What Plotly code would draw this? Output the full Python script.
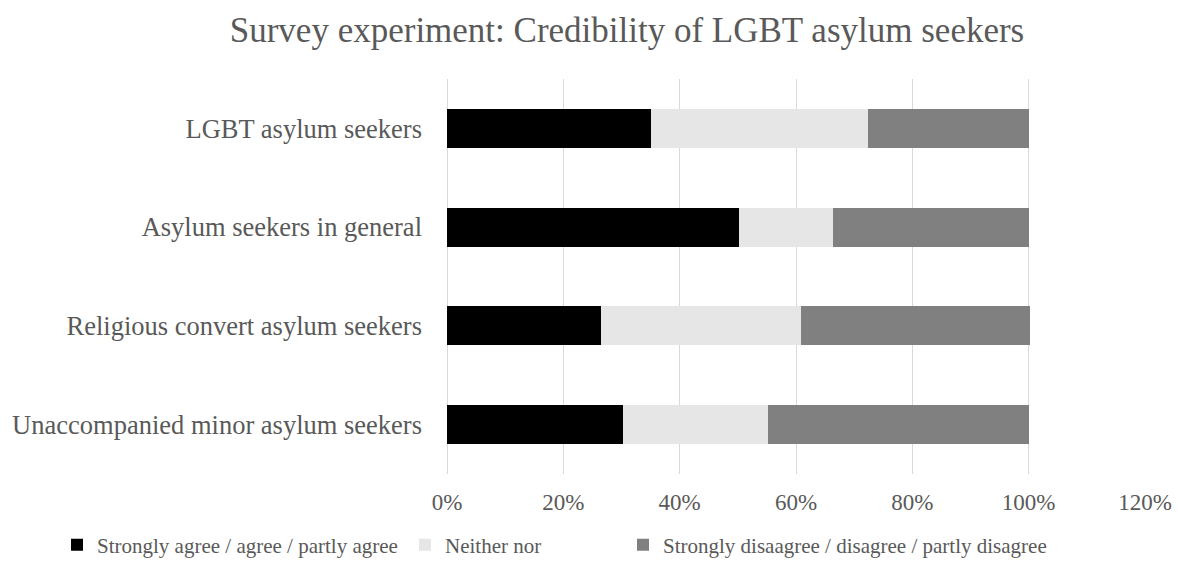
import plotly.graph_objects as go

categories = ["LGBT asylum seekers", "Asylum seekers in general",
              "Religious convert asylum seekers", "Unaccompanied minor asylum seekers"]
series_names = ["Strongly agree / agree / partly agree", "Neither nor",
                "Strongly disaagree / disagree / partly disagree"]
agree = [35.0, 50.2, 26.5, 30.3]
neither = [37.4, 16.1, 34.3, 24.9]
disagree = [27.6, 33.7, 39.5, 44.8]
tick_vals = [0, 20, 40, 60, 80, 100, 120]
tick_text = ["0%", "20%", "40%", "60%", "80%", "100%", "120%"]

colors = ["#000000", "#e6e6e6", "#808080"]
FONT = "Liberation Serif, Times New Roman, serif"
TXT = "#595959"

W, H = 1178, 566
ML, MR, MT, MB = 447, 33, 79, 92

fig = go.Figure()
legends = ["legend", "legend2", "legend3"]
for name, vals, col, lg in zip(series_names, [agree, neither, disagree], colors, legends):
    fig.add_trace(go.Bar(
        y=categories, x=vals, name=name, orientation="h",
        marker=dict(color=col, line=dict(width=0)),
        legend=lg,
    ))

text_starts = [97, 445, 663]
leg_common = dict(orientation="h", yanchor="middle", xanchor="left",
                  xref="container", yref="container",
                  font=dict(family=FONT, size=21, color=TXT),
                  bgcolor="rgba(0,0,0,0)", itemwidth=30)
legend_layout = {}
for lg, ts in zip(legends, text_starts):
    xpx = ts - 40
    legend_layout[lg] = dict(leg_common, x=xpx / W, y=1 - 545 / H)

fig.update_layout(
    width=W, height=H,
    margin=dict(l=ML, r=MR, t=MT, b=MB, autoexpand=False),
    paper_bgcolor="white", plot_bgcolor="white",
    barmode="stack", bargap=0.605,
    title=dict(text="Survey experiment: Credibility of LGBT asylum seekers",
               x=627 / W, xref="container", xanchor="center",
               y=1 - 30 / H, yanchor="middle",
               font=dict(family=FONT, size=35, color=TXT)),
    xaxis=dict(range=[0, 120], tickvals=tick_vals, ticktext=tick_text,
               showgrid=True, gridcolor="#d9d9d9", gridwidth=1,
               zeroline=True, zerolinecolor="#d9d9d9", zerolinewidth=1,
               showline=False, ticks="", ticklabelstandoff=12, automargin=False,
               tickfont=dict(family=FONT, size=23, color=TXT)),
    yaxis=dict(autorange="reversed", showgrid=False, zeroline=False,
               showline=False, ticks="", ticklabelstandoff=24, automargin=False,
               tickfont=dict(family=FONT, size=26.5, color=TXT)),
    showlegend=True,
    **legend_layout,
)

fig.write_html("out.html")
